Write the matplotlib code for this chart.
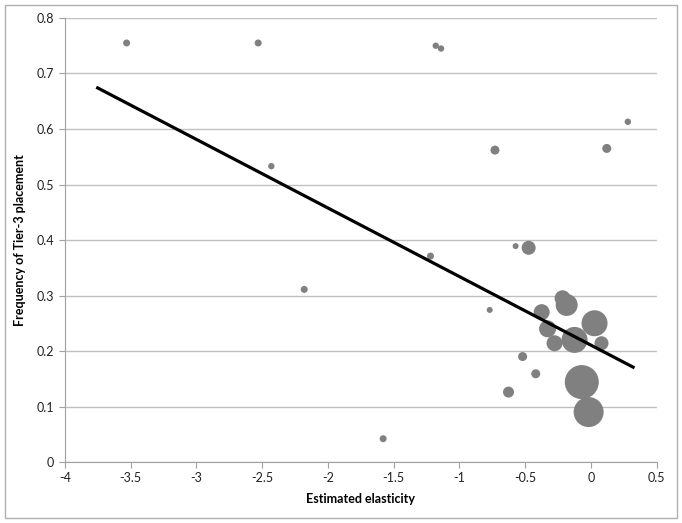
import matplotlib.pyplot as plt
import matplotlib.patches as patches
import numpy as np

plt.rcParams['font.family'] = ['Lato', 'DejaVu Sans']

# data
elasticity = [-3.53, -2.53, -1.18, -1.14, 0.28, 0.12, -0.73, -2.43, -2.18, -1.22, -1.58,
              -0.474, -0.573, -0.77, -0.375, -0.216, -0.185, 0.027, -0.33, -0.277,
              -0.125, 0.08, -0.52, -0.42, -0.627, -0.07, -0.018]
tier3_freq = [0.755, 0.755, 0.75, 0.745, 0.613, 0.565, 0.562, 0.533, 0.311, 0.371, 0.042,
              0.386, 0.389, 0.274, 0.27, 0.295, 0.283, 0.25, 0.24, 0.214,
              0.22, 0.214, 0.19, 0.159, 0.126, 0.144, 0.09]
bubble_radius = [3.5, 3.5, 3.2, 3.2, 3.2, 4.5, 4.5, 3.2, 3.5, 3.5, 3.5,
                 7, 3, 3, 8, 8, 11, 13, 8.5, 8,
                 13, 7, 4.5, 4.5, 5.5, 17, 15]

# trend line (fitted)
trend_slope = -0.1236
trend_intercept = 0.2105
trend_x = [-3.75, 0.32]

fig = plt.figure(figsize=(6.82, 5.23), dpi=100)
ax = fig.add_axes([0.095, 0.1166, 0.868, 0.849])

# radius in pixels -> marker area in points^2
sizes = (2 * np.array(bubble_radius) * 0.72) ** 2
ax.scatter(elasticity, tier3_freq, s=sizes, color='#808080', edgecolors='none', zorder=3)

tx = np.array(trend_x)
ax.plot(tx, trend_intercept + trend_slope * tx, color='black', lw=2.3, zorder=4)

ax.set_xlim(-4, 0.5)
ax.set_ylim(0, 0.8)
ax.set_xticks(np.arange(-4, 0.51, 0.5))
ax.set_xticklabels(['-4', '-3.5', '-3', '-2.5', '-2', '-1.5', '-1', '-0.5', '0', '0.5'])
ax.set_yticks(np.arange(0, 0.81, 0.1))
ax.set_yticklabels(['0', '0.1', '0.2', '0.3', '0.4', '0.5', '0.6', '0.7', '0.8'])
ax.yaxis.grid(True, color='#c0c0c0', lw=1)
ax.set_axisbelow(True)
for s in ['top', 'right']:
    ax.spines[s].set_visible(False)
for s in ['left', 'bottom']:
    ax.spines[s].set_color('#a0a0a0')
ax.tick_params(axis='both', colors='#a0a0a0', labelcolor='#222222', labelsize=9, length=4)

ax.set_xlabel('Estimated elasticity', fontsize=9, fontweight='bold', labelpad=6)
ax.set_ylabel('Frequency of Tier-3 placement', fontsize=9, fontweight='bold', labelpad=8)

# outer chart border
fig.patches.append(patches.Rectangle((0.007, 0.01), 0.986, 0.98, transform=fig.transFigure,
                                     fill=False, edgecolor='#b0b0b0', lw=1))

fig.savefig('out.png', dpi=100)
